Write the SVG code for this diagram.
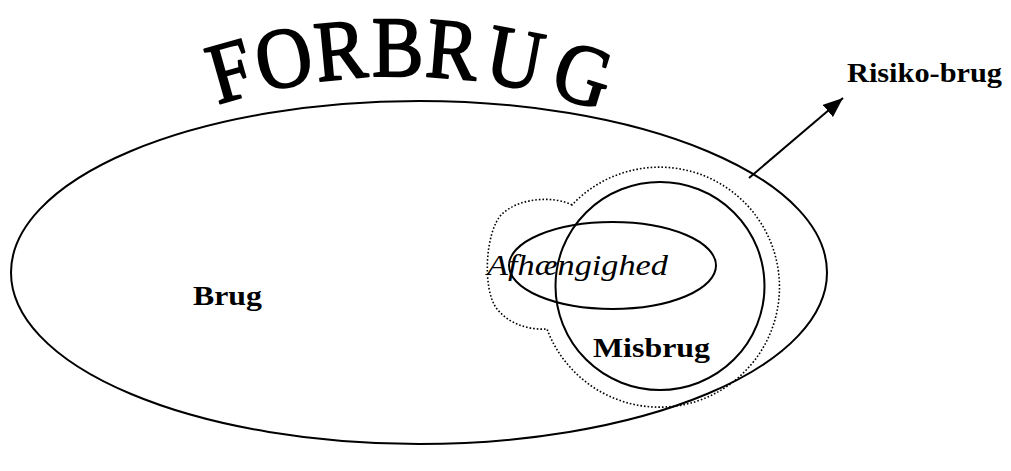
<svg xmlns="http://www.w3.org/2000/svg" width="1011" height="471" viewBox="0 0 1011 471">
<style>
text{font-family:"Liberation Serif","DejaVu Serif","Times New Roman",serif;fill:#000}
.line{fill:none;stroke:#000;stroke-width:2}
.dot{fill:none;stroke:#000;stroke-width:1.6;stroke-dasharray:1.6 2}
.lbl{font-weight:bold;font-size:28px}
.ital{font-style:italic;font-size:30px}
.title{font-size:86px;text-anchor:middle;stroke:#000;stroke-width:2;stroke-linejoin:round}
</style>
<defs>
<marker id="arr" viewBox="0 0 20 16" refX="20" refY="8" markerWidth="20" markerHeight="16" markerUnits="userSpaceOnUse" orient="auto">
<path d="M0,0 L20,8 L0,16 Z" fill="#000"/>
</marker>
</defs>
<g id="title">
<text class="title" transform="rotate(-15.9 400 674) translate(402 76) scale(0.9 1)">F</text>
<text class="title" transform="rotate(-10.7 400 674) translate(400 76) scale(0.9 1)">O</text>
<text class="title" transform="rotate(-5.45 400 674) translate(400 76) scale(0.9 1)">R</text>
<text class="title" transform="rotate(-0.2 400 674) translate(400 76) scale(0.9 1)">B</text>
<text class="title" transform="rotate(4.8 400 674) translate(400 76) scale(0.9 1)">R</text>
<text class="title" transform="rotate(10.6 400 674) translate(400 76) scale(0.9 1)">U</text>
<text class="title" transform="rotate(17 400 674) translate(400 76) scale(0.9 1)">G</text>
</g>
<g id="forbrug">
<ellipse class="line" cx="419" cy="272.5" rx="408" ry="171.5"/>
<text class="lbl" x="193" y="305" textLength="69" lengthAdjust="spacingAndGlyphs">Brug</text>
</g>
<g id="risiko">
<path class="dot" d="M572,205 C555,196 520,197 502,214 C485,231 482,290 497,309 C510,325 530,330 547,329 A120 120 0 1 0 572,205 Z"/>
</g>
<g id="misbrug">
<ellipse class="line" cx="660" cy="286" rx="104.5" ry="104"/>
<text class="lbl" x="593" y="357" textLength="117" lengthAdjust="spacingAndGlyphs">Misbrug</text>
</g>
<g id="afhaengighed">
<ellipse class="line" cx="612.5" cy="265.5" rx="103.5" ry="43.5"/>
<text class="ital" x="487" y="275" textLength="181" lengthAdjust="spacingAndGlyphs">Afhængighed</text>
</g>
<g id="risikobrug-label">
<text class="lbl" x="847" y="82" textLength="155" lengthAdjust="spacingAndGlyphs">Risiko-brug</text>
</g>
<g id="connectors">
<line class="line" x1="749" y1="178" x2="843" y2="98" marker-end="url(#arr)"/>
</g>
</svg>
